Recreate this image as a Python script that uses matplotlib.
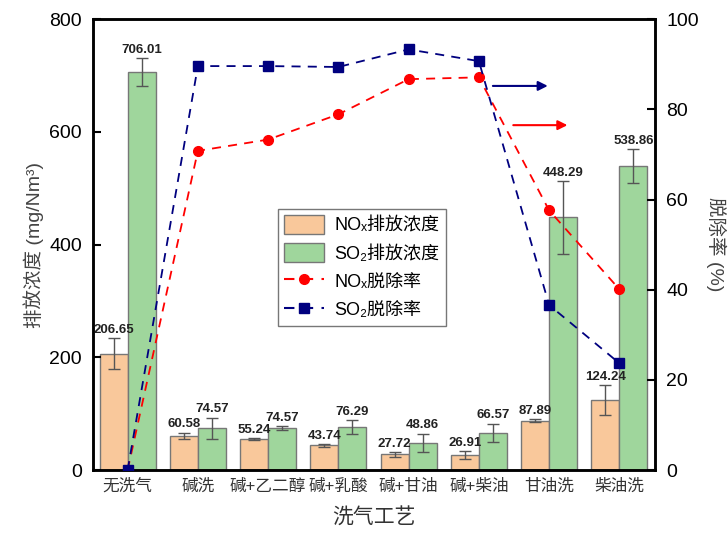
import numpy as np
import matplotlib
matplotlib.use("Agg")
import matplotlib.pyplot as plt
from matplotlib.patches import Patch
from matplotlib.lines import Line2D

plt.rcParams['font.family'] = ['Liberation Sans', 'DejaVu Sans', 'Noto Sans CJK SC']

# Emission concentrations (mg/Nm3) and removal rates (%)
processes = ["无洗气", "碱洗", "碱+乙二醇", "碱+乳酸", "碱+甘油", "碱+柴油", "甘油洗", "柴油洗"]
nox_conc = [206.65, 60.58, 55.24, 43.74, 27.72, 26.91, 87.89, 124.24]
nox_err = [27.5, 6.0, 2.0, 2.5, 4.5, 7.0, 2.0, 27.0]
so2_conc = [706.01, 74.57, 74.57, 76.29, 48.86, 66.57, 448.29, 538.86]
so2_err = [24.5, 18.5, 3.0, 13.0, 16.0, 16.0, 64.0, 30.0]
nox_rate = [0, 70.8, 73.3, 78.9, 86.7, 87.1, 57.6, 40.1]
so2_rate = [0, 89.6, 89.6, 89.4, 93.3, 90.7, 36.6, 23.7]

c_nox_bar = "#F9C89B"
c_so2_bar = "#9FD69C"
c_nox_line = "#FF0000"
c_so2_line = "#00007F"

fig = plt.figure(figsize=(7.28, 5.33), dpi=100)
ax = fig.add_axes([0.128, 0.118, 0.772, 0.846])
ax2 = ax.twinx()

x = np.arange(len(processes))
w = 0.4
err_kw = dict(ecolor="#555555", elinewidth=1, capsize=4, capthick=1)

ax.bar(x - w / 2, nox_conc, w, yerr=nox_err, color=c_nox_bar,
       edgecolor="#777777", linewidth=1, error_kw=err_kw)
ax.bar(x + w / 2, so2_conc, w, yerr=so2_err, color=c_so2_bar,
       edgecolor="#777777", linewidth=1, error_kw=err_kw)

for xi, v, e in zip(x - w / 2, nox_conc, nox_err):
    ax.text(xi, v + e + 4, f"{v:.2f}", ha="center", va="bottom",
            fontsize=9.5, fontweight="bold", color="#222222")
for xi, v, e in zip(x + w / 2, so2_conc, so2_err):
    ax.text(xi, v + e + 4, f"{v:.2f}", ha="center", va="bottom",
            fontsize=9.5, fontweight="bold", color="#222222")

ax.set_xlim(-0.49, 7.51)
ax.set_ylim(0, 800)
ax.set_yticks([0, 200, 400, 600, 800])
ax.set_xticks(x)
ax.set_xticklabels(processes, fontsize=12, color="#333333")
ax.tick_params(axis="x", length=0, pad=6)
ax.tick_params(axis="y", direction="in", length=6, width=1.5, labelsize=14, pad=8)
ax.set_ylabel("排放浓度 (mg/Nm³)", fontsize=14, color="#444444", labelpad=4)
ax.set_xlabel("洗气工艺", fontsize=15, color="#333333", labelpad=10)

# removal rates on the right axis
ax2.plot(x, nox_rate, color=c_nox_line, linestyle=(0, (5, 4)), linewidth=1.3,
         marker="o", markersize=7, zorder=5)
ax2.plot(x, so2_rate, color=c_so2_line, linestyle=(0, (5, 4)), linewidth=1.3,
         marker="s", markersize=6.5, zorder=6)
ax2.set_ylim(0, 100)
ax2.set_yticks([0, 20, 40, 60, 80, 100])
ax2.tick_params(axis="y", direction="in", length=6, width=1.5, labelsize=14, pad=8)
ax2.set_ylabel("脱除率 (%)", fontsize=14, color="#444444", rotation=270, labelpad=20)

# arrows pointing to the right-hand axis
ax2.annotate("", xy=(6.02, 85.2), xytext=(5.16, 85.2),
             arrowprops=dict(arrowstyle="-|>", color=c_so2_line, lw=1.5, mutation_scale=14))
ax2.annotate("", xy=(6.30, 76.5), xytext=(5.45, 76.5),
             arrowprops=dict(arrowstyle="-|>", color=c_nox_line, lw=1.5, mutation_scale=14))

for a in (ax, ax2):
    for s in a.spines.values():
        s.set_linewidth(1.8)

handles = [
    Patch(facecolor=c_nox_bar, edgecolor="#777777"),
    Patch(facecolor=c_so2_bar, edgecolor="#777777"),
    Line2D([], [], color=c_nox_line, linestyle=(0, (5, 4)), marker="o", markersize=7),
    Line2D([], [], color=c_so2_line, linestyle=(0, (5, 4)), marker="s", markersize=6.5),
]
labels = ["NOₓ排放浓度", "SO₂排放浓度", "NOₓ脱除率", "SO₂脱除率"]
leg = ax2.legend(handles, labels, loc="lower left", bbox_to_anchor=(0.312, 0.300),
                 fontsize=13, frameon=True, fancybox=False, edgecolor="#555555",
                 handlelength=2.2, handleheight=1.2, handletextpad=0.6,
                 borderpad=0.35, labelspacing=0.5)
leg.get_frame().set_linewidth(1)
leg.set_zorder(10)

fig.savefig("out.png", dpi=100)
